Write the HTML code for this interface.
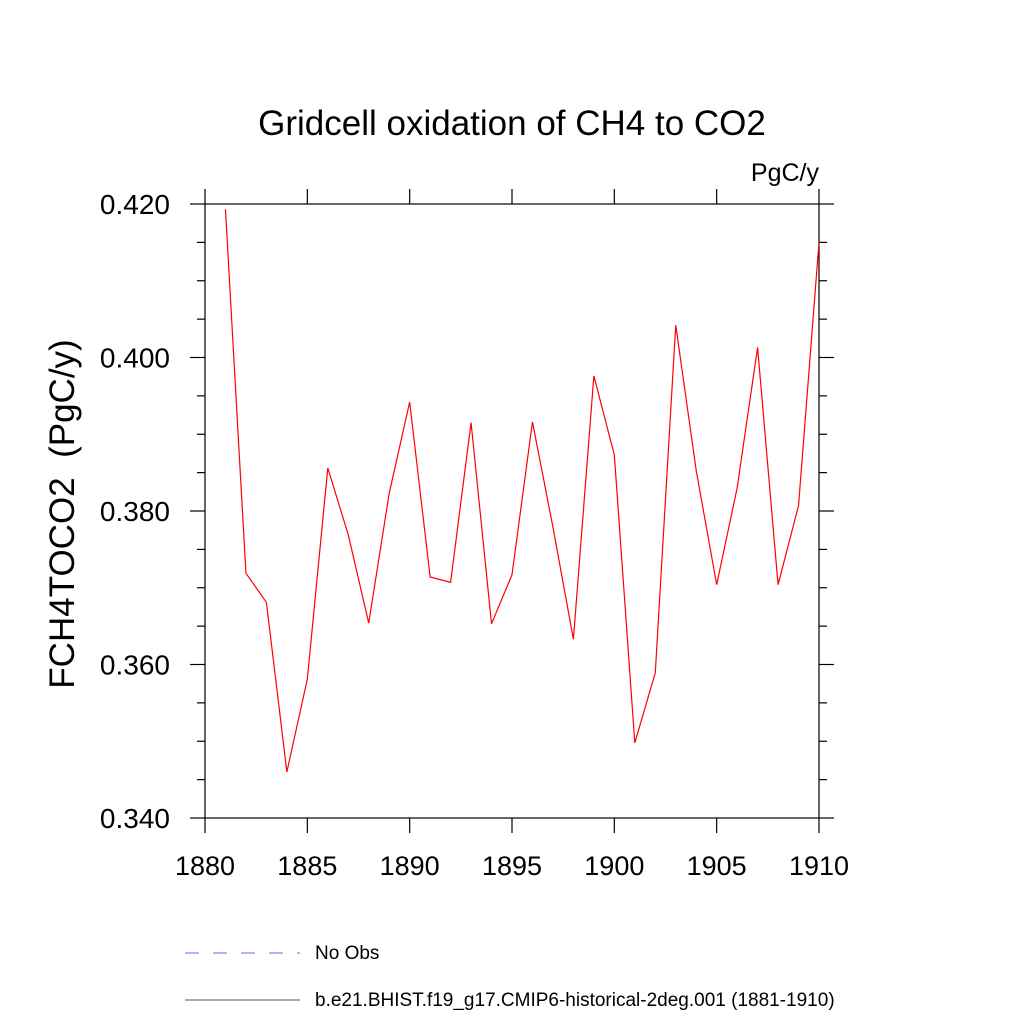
<!DOCTYPE html>
<html><head><meta charset="utf-8"><style>body{margin:0;background:#fff}svg{display:block}</style></head>
<body>
<svg id="chart" width="1024" height="1024" xmlns="http://www.w3.org/2000/svg" font-family="Liberation Sans, sans-serif">
<text x="512" y="135" font-size="35" text-anchor="middle">Gridcell oxidation of CH4 to CO2</text>
<text x="819" y="181" font-size="25" text-anchor="end">PgC/y</text>
<text transform="translate(74,514) rotate(-90)" font-size="35" text-anchor="middle" xml:space="preserve">FCH4TOCO2  (PgC/y)</text>
<g id="axes"></g>
<polyline id="series" fill="none" stroke="#ff0000" stroke-width="1.2"/>
<line x1="185" y1="953" x2="300" y2="953" stroke="#6060ff" stroke-dasharray="14,14"/>
<text x="315" y="959" font-size="19">No Obs</text>
<line x1="185" y1="1000" x2="300" y2="1000" stroke="#555"/>
<text x="315" y="1006" font-size="19">b.e21.BHIST.f19_g17.CMIP6-historical-2deg.001 (1881-1910)</text>
</svg>
<script>
const years=[1881,1882,1883,1884,1885,1886,1887,1888,1889,1890,1891,1892,1893,1894,1895,1896,1897,1898,1899,1900,1901,1902,1903,1904,1905,1906,1907,1908,1909,1910];
const values=[0.4193,0.3719,0.3681,0.3460,0.3581,0.3856,0.3769,0.3654,0.3823,0.3942,0.3714,0.3707,0.3915,0.3653,0.3717,0.3916,0.3779,0.3633,0.3976,0.3873,0.3498,0.3589,0.4042,0.3853,0.3704,0.3830,0.4013,0.3704,0.3807,0.4150];
const xTicks=[1880,1885,1890,1895,1900,1905,1910];
const yTicks=[0.340,0.360,0.380,0.400,0.420];
const L=205,R=819,T=204,B=818;
const xs=v=>L+(v-1880)/30*(R-L);
const ys=v=>B-(v-0.340)/0.080*(B-T);
const NS="http://www.w3.org/2000/svg";
const ax=document.getElementById('axes');
function ln(x1,y1,x2,y2,name){const e=document.createElementNS(NS,'line');e.setAttribute('x1',x1);e.setAttribute('y1',y1);e.setAttribute('x2',x2);e.setAttribute('y2',y2);e.setAttribute('stroke','#000');e.setAttribute('stroke-width','1.2');


ax.appendChild(e);}
function tx(x,y,s,anchor,size,name){const e=document.createElementNS(NS,'text');e.setAttribute('x',x);e.setAttribute('y',y);e.setAttribute('font-size',size);e.setAttribute('text-anchor',anchor);e.textContent=s;


ax.appendChild(e);}
const f=document.createElementNS(NS,'rect');f.setAttribute('x',L);f.setAttribute('y',T);f.setAttribute('width',R-L);f.setAttribute('height',B-T);f.setAttribute('fill','none');f.setAttribute('stroke','#000');f.setAttribute('stroke-width','1.2');


ax.appendChild(f);
xTicks.forEach(v=>{const x=xs(v);ln(x,B,x,B+15,'x-tick');ln(x,T,x,T-15,'x-tick-top');tx(x,B+57,String(v),'middle','27','x-tick-label');});
for(let v=0.340;v<=0.4201;v+=0.005){const y=ys(v);const maj=Math.abs((v*1000)%20)<0.01||Math.abs((v*1000)%20-20)<0.01;const len=maj?15:8;ln(L,y,L-len,y,'y-tick');ln(R,y,R+len,y,'y-tick-right');}
yTicks.forEach(v=>{tx(L-35,ys(v)+10,v.toFixed(3),'end','28','y-tick-label');});
document.getElementById('series').setAttribute('points',years.map((y,i)=>xs(y)+','+ys(values[i])).join(' '));
</script>
</body></html>
